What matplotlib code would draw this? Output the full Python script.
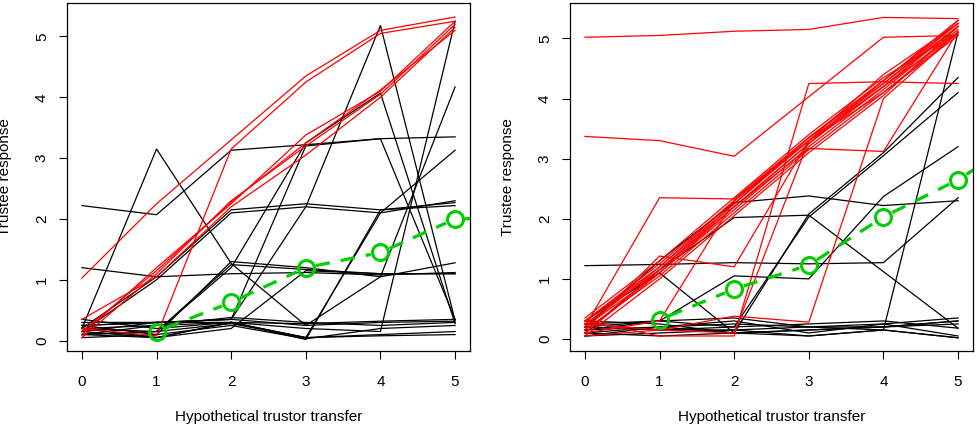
import numpy as np
import matplotlib
matplotlib.use("Agg")
import matplotlib.pyplot as plt

plt.rcParams['font.family'] = ['Liberation Sans', 'DejaVu Sans']

transfer = [0, 1, 2, 3, 4, 5]
mean_x = [1, 2, 3, 4, 5, 6]

# ---- left panel ----
left_black = [
    [2.22, 2.07, 3.13, 3.22, 3.32, 3.35],
    [0.20, 3.15, 1.27, 0.25, 1.05, 4.17],
    [0.20, 1.05, 2.15, 2.25, 2.15, 2.27],
    [0.15, 1.00, 2.10, 2.20, 2.10, 2.30],
    [1.20, 1.05, 1.10, 1.12, 1.08, 1.12],
    [0.25, 0.10, 1.30, 1.20, 1.05, 1.28],
    [0.20, 0.15, 1.25, 1.17, 1.10, 1.10],
    [0.25, 0.30, 0.35, 2.20, 5.18, 0.33],
    [0.10, 0.25, 0.30, 0.05, 2.10, 3.13],
    [0.15, 0.30, 0.30, 0.02, 2.15, 2.22],
    [0.10, 0.15, 1.20, 3.25, 4.07, 0.28],
    [0.30, 0.30, 0.35, 3.20, 3.32, 0.35],
    [0.20, 0.05, 0.30, 0.20, 0.15, 5.25],
    [0.25, 0.30, 0.35, 0.25, 0.30, 0.32],
    [0.15, 0.05, 0.30, 0.05, 0.10, 0.15],
    [0.35, 0.20, 0.30, 0.28, 0.32, 0.35],
    [0.05, 0.10, 0.25, 0.03, 0.20, 0.25],
    [0.10, 0.15, 0.28, 0.05, 0.08, 0.10],
    [0.20, 0.25, 0.38, 0.30, 0.25, 0.30],
    [0.10, 0.05, 0.20, 1.15, 1.10, 1.10],
]
left_red = [
    [1.03, 2.25, 3.30, 4.35, 5.10, 5.32],
    [0.20, 0.08, 3.15, 4.25, 5.05, 5.25],
    [0.05, 1.10, 2.30, 3.20, 4.05, 5.20],
    [0.10, 1.20, 2.25, 3.38, 4.10, 5.25],
    [0.35, 1.05, 2.20, 3.05, 4.00, 5.15],
    [0.15, 1.15, 2.28, 3.25, 4.12, 5.10],
]
left_mean = [0.15, 0.63, 1.20, 1.45, 2.00, 2.03]

# ---- right panel ----
right_black = [
    [1.22, 1.24, 1.27, 1.25, 1.27, 2.35],
    [0.10, 1.15, 2.02, 2.06, 1.12, 0.18],
    [0.20, 1.30, 2.27, 2.38, 2.22, 2.30],
    [0.15, 0.30, 1.05, 1.00, 2.37, 3.20],
    [0.05, 0.20, 0.10, 2.08, 3.10, 4.35],
    [0.20, 0.15, 0.20, 2.03, 3.05, 4.10],
    [0.10, 0.20, 0.25, 0.20, 0.15, 5.10],
    [0.30, 1.10, 0.10, 0.15, 0.20, 0.30],
    [0.25, 0.30, 0.35, 0.20, 0.25, 0.35],
    [0.05, 0.10, 0.15, 0.05, 0.15, 0.02],
    [0.30, 0.25, 0.10, 0.15, 0.20, 0.25],
    [0.15, 0.20, 0.30, 0.10, 0.25, 0.05],
    [0.20, 0.30, 0.20, 0.25, 0.30, 0.18],
    [0.10, 0.05, 0.10, 0.05, 0.15, 0.02],
    [0.25, 0.15, 0.15, 0.20, 0.20, 0.30],
]
right_red = [
    [5.02, 5.05, 5.12, 5.15, 5.35, 5.33],
    [3.37, 3.30, 3.04, 4.03, 5.02, 5.05],
    [0.20, 2.35, 2.33, 3.35, 4.30, 5.25],
    [0.30, 0.05, 0.05, 4.25, 4.28, 4.25],
    [0.25, 0.15, 0.38, 0.28, 4.00, 5.10],
    [0.30, 1.15, 2.20, 3.17, 3.12, 5.12],
    [0.15, 1.38, 1.20, 3.30, 4.10, 5.10],
    [0.05, 0.15, 0.10, 3.30, 4.20, 5.20],
    [0.10, 0.30, 2.30, 3.30, 4.25, 5.20],
    [0.20, 1.20, 2.25, 3.30, 4.20, 5.20],
    [0.30, 1.25, 2.30, 3.35, 4.25, 5.25],
    [0.10, 1.10, 2.15, 3.20, 4.15, 5.15],
    [0.25, 1.15, 2.20, 3.25, 4.30, 5.30],
    [0.35, 1.30, 2.35, 3.40, 4.35, 5.10],
    [0.15, 1.05, 2.10, 3.15, 4.10, 5.05],
    [0.05, 1.00, 2.05, 3.10, 4.05, 5.20],
    [0.30, 1.20, 2.30, 3.30, 4.40, 5.25],
    [0.20, 1.10, 2.20, 3.25, 4.20, 5.10],
    [0.10, 1.15, 2.25, 3.35, 4.30, 5.30],
]
right_mean = [0.32, 0.83, 1.23, 2.03, 2.65, 3.45]

GREEN = "#00CD00"

fig = plt.figure(figsize=(9.78, 4.28), dpi=100)
ax1 = fig.add_axes([67 / 978, 1 - 351 / 428, 403 / 978, 348 / 428])
ax2 = fig.add_axes([570 / 978, 1 - 351 / 428, 403 / 978, 348 / 428])


def type_b(ax, xs, ys, gap=10):
    # dashed segments that stop short of each point, like R type="b"
    pts = ax.transData.transform(np.column_stack([xs, ys]))
    inv = ax.transData.inverted()
    for p, q in zip(pts[:-1], pts[1:]):
        d = q - p
        L = np.hypot(*d)
        if L <= 2 * gap:
            continue
        u = d / L
        a, b = inv.transform([p + u * gap, q - u * gap])
        ax.plot([a[0], b[0]], [a[1], b[1]], color=GREEN, lw=2.3,
                linestyle=(0, (4.5, 3.5)), zorder=5, clip_on=True)
    ax.plot(xs, ys, 'o', ms=11.5, mfc='none', mec=GREEN, mew=2.2,
            zorder=6, clip_on=True)


panels = [
    (ax1, left_black, left_red, left_mean, (-0.17, 5.55)),
    (ax2, right_black, right_red, right_mean, (-0.2, 5.59)),
]
for ax, blk, red, mean, ylim in panels:
    ax.set_xlim(-0.2, 5.2)
    ax.set_ylim(*ylim)
    for ys in blk:
        ax.plot(transfer, ys, color='black', lw=0.9)
    for ys in red:
        ax.plot(transfer, ys, color='#FF0000', lw=0.9)
    type_b(ax, mean_x, mean)

    ax.set_xticks(transfer)
    ax.set_yticks([0, 1, 2, 3, 4, 5])
    ax.tick_params(direction='out', length=6, width=0.8, labelsize=11)
    ax.tick_params(axis='x', pad=11)
    ax.tick_params(axis='y', pad=7)
    for lab in ax.get_yticklabels():
        lab.set_rotation(90)
        lab.set_va('center')
    for s in ax.spines.values():
        s.set_linewidth(0.9)
    ax.set_xlabel("Hypothetical trustor transfer", fontsize=11)
    ax.xaxis.set_label_coords(0.5, -0.19)
    ax.xaxis.label.set_va('center')
    ax.set_ylabel("Trustee response", fontsize=11)
    ax.yaxis.set_label_coords(-0.155, 0.5)
    ax.yaxis.label.set_va('center')

fig.savefig("out.png", dpi=100)
